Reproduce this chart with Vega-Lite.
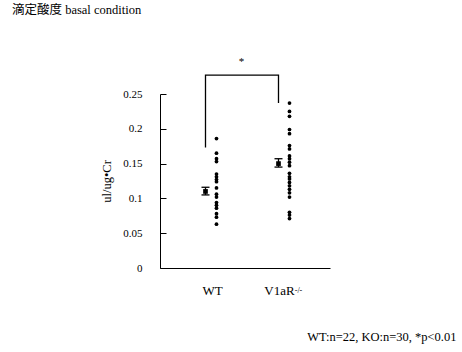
{
  "$schema": "https://vega.github.io/schema/vega-lite/v6.json",
  "autosize": "none",
  "width": 170,
  "height": 174,
  "padding": {"left": 160, "top": 94, "right": 132, "bottom": 84},
  "background": "white",
  "view": {"stroke": null},
  "config": {
    "font": "Liberation Serif",
    "axisY": {"grid": false, "labelOverlap": false, "tickSize": -6, "labelPadding": 24, "labelFontSize": 11, "labelColor": "black", "tickColor": "black", "domainColor": "black",
      "titleFontSize": 12.5, "titleFontWeight": "normal", "titleColor": "black", "titlePadding": 9}
  },
  "title": {"text": "滴定酸度 basal condition", "anchor": "start", "frame": "group", "dx": -148, "offset": 39, "font": "Liberation Serif, Noto Sans CJK JP", "fontSize": 12.5, "fontWeight": "normal", "color": "black"},
  "datasets": {
    "dots": [
      {"group": "WT", "kind": "dots", "value": 0.186},
      {"group": "WT", "kind": "dots", "value": 0.165},
      {"group": "WT", "kind": "dots", "value": 0.157},
      {"group": "WT", "kind": "dots", "value": 0.153},
      {"group": "WT", "kind": "dots", "value": 0.135},
      {"group": "WT", "kind": "dots", "value": 0.131},
      {"group": "WT", "kind": "dots", "value": 0.127},
      {"group": "WT", "kind": "dots", "value": 0.124},
      {"group": "WT", "kind": "dots", "value": 0.115},
      {"group": "WT", "kind": "dots", "value": 0.106},
      {"group": "WT", "kind": "dots", "value": 0.102},
      {"group": "WT", "kind": "dots", "value": 0.094},
      {"group": "WT", "kind": "dots", "value": 0.090},
      {"group": "WT", "kind": "dots", "value": 0.086},
      {"group": "WT", "kind": "dots", "value": 0.078},
      {"group": "WT", "kind": "dots", "value": 0.073},
      {"group": "WT", "kind": "dots", "value": 0.063},
      {"group": "V1aR", "kind": "dots", "value": 0.237},
      {"group": "V1aR", "kind": "dots", "value": 0.225},
      {"group": "V1aR", "kind": "dots", "value": 0.218},
      {"group": "V1aR", "kind": "dots", "value": 0.199},
      {"group": "V1aR", "kind": "dots", "value": 0.193},
      {"group": "V1aR", "kind": "dots", "value": 0.176},
      {"group": "V1aR", "kind": "dots", "value": 0.171},
      {"group": "V1aR", "kind": "dots", "value": 0.161},
      {"group": "V1aR", "kind": "dots", "value": 0.157},
      {"group": "V1aR", "kind": "dots", "value": 0.152},
      {"group": "V1aR", "kind": "dots", "value": 0.147},
      {"group": "V1aR", "kind": "dots", "value": 0.136},
      {"group": "V1aR", "kind": "dots", "value": 0.131},
      {"group": "V1aR", "kind": "dots", "value": 0.128},
      {"group": "V1aR", "kind": "dots", "value": 0.123},
      {"group": "V1aR", "kind": "dots", "value": 0.118},
      {"group": "V1aR", "kind": "dots", "value": 0.113},
      {"group": "V1aR", "kind": "dots", "value": 0.108},
      {"group": "V1aR", "kind": "dots", "value": 0.102},
      {"group": "V1aR", "kind": "dots", "value": 0.080},
      {"group": "V1aR", "kind": "dots", "value": 0.076},
      {"group": "V1aR", "kind": "dots", "value": 0.071}
    ],
    "means": [
      {"group": "WT", "kind": "mean", "mean": 0.110, "lo": 0.105, "hi": 0.116},
      {"group": "V1aR", "kind": "mean", "mean": 0.150, "lo": 0.145, "hi": 0.157}
    ],
    "bracket": [
      {"group": "WT", "kind": "mean", "y": 0.173, "ord": 1},
      {"group": "WT", "kind": "mean", "y": 0.277, "ord": 2},
      {"group": "V1aR", "kind": "mean", "y": 0.277, "ord": 3},
      {"group": "V1aR", "kind": "mean", "y": 0.237, "ord": 4}
    ],
    "star": [{"group": "WT", "kind": "mean", "y": 0.296, "text": "*"}],
    "sup": [{"group": "V1aR", "kind": "mean", "y": 0, "text": "-/-"}]
  },
  "encoding": {
    "x": {
      "field": "group", "type": "nominal",
      "scale": {"type": "band", "domain": ["WT", "V1aR"], "paddingInner": 0, "paddingOuter": 0.1644, "align": 0.604},
      "axis": {
        "title": "WT:n=22, KO:n=30, *p<0.01", "titleX": 296, "titleY": 72, "titleAlign": "right", "titleBaseline": "alphabetic",
        "titleFontSize": 12.5, "titleFontWeight": "normal", "titleColor": "black",
        "labelAngle": 0, "labelFontSize": 13, "labelPadding": 16, "labelColor": "black", "ticks": false, "domainColor": "black",
        "labelOffset": {"condition": {"test": "datum.value === 'V1aR'", "value": -4.5}, "value": 1.5}
      }
    },
    "xOffset": {"field": "kind", "type": "nominal", "scale": {"type": "point", "domain": ["mean", "dots"], "range": [31, 42], "padding": 0}}
  },
  "layer": [
    {
      "data": {"name": "dots"},
      "mark": {"type": "circle", "size": 14, "color": "black", "opacity": 1},
      "encoding": {
        "y": {"field": "value", "type": "quantitative", "scale": {"domain": [0, 0.25], "nice": false},
          "axis": {"title": "ul/ug•Cr", "values": [0, 0.05, 0.1, 0.15, 0.2, 0.25], "format": "~g"}}
      }
    },
    {
      "data": {"name": "means"},
      "mark": {"type": "rule", "color": "black", "strokeWidth": 1.3},
      "encoding": {"y": {"field": "lo", "type": "quantitative", "scale": {"domain": [0, 0.25], "nice": false}, "axis": {"title": "ul/ug•Cr", "values": [0, 0.05, 0.1, 0.15, 0.2, 0.25], "format": "~g"}}, "y2": {"field": "hi"}}
    },
    {
      "data": {"name": "means"},
      "mark": {"type": "tick", "orient": "horizontal", "size": 8, "thickness": 1.3, "color": "black", "opacity": 1},
      "encoding": {"y": {"field": "lo", "type": "quantitative", "scale": {"domain": [0, 0.25], "nice": false}, "axis": {"title": "ul/ug•Cr", "values": [0, 0.05, 0.1, 0.15, 0.2, 0.25], "format": "~g"}}}
    },
    {
      "data": {"name": "means"},
      "mark": {"type": "tick", "orient": "horizontal", "size": 8, "thickness": 1.3, "color": "black", "opacity": 1},
      "encoding": {"y": {"field": "hi", "type": "quantitative", "scale": {"domain": [0, 0.25], "nice": false}, "axis": {"title": "ul/ug•Cr", "values": [0, 0.05, 0.1, 0.15, 0.2, 0.25], "format": "~g"}}}
    },
    {
      "data": {"name": "means"},
      "mark": {"type": "square", "size": 22, "color": "black", "filled": true, "opacity": 1},
      "encoding": {"y": {"field": "mean", "type": "quantitative", "scale": {"domain": [0, 0.25], "nice": false}, "axis": {"title": "ul/ug•Cr", "values": [0, 0.05, 0.1, 0.15, 0.2, 0.25], "format": "~g"}}}
    },
    {
      "data": {"name": "bracket"},
      "mark": {"type": "line", "color": "black", "strokeWidth": 1.3},
      "encoding": {"y": {"field": "y", "type": "quantitative", "scale": {"domain": [0, 0.25], "nice": false}, "axis": {"title": "ul/ug•Cr", "values": [0, 0.05, 0.1, 0.15, 0.2, 0.25], "format": "~g"}}, "order": {"field": "ord", "type": "quantitative"}}
    },
    {
      "data": {"name": "star"},
      "mark": {"type": "text", "dx": 36, "fontSize": 11, "baseline": "middle", "color": "black"},
      "encoding": {"y": {"field": "y", "type": "quantitative", "scale": {"domain": [0, 0.25], "nice": false}, "axis": {"title": "ul/ug•Cr", "values": [0, 0.05, 0.1, 0.15, 0.2, 0.25], "format": "~g"}}, "text": {"field": "text"}}
    },
    {
      "data": {"name": "sup"},
      "mark": {"type": "text", "dx": 20, "dy": 22.5, "fontSize": 8, "baseline": "middle", "color": "black"},
      "encoding": {"y": {"field": "y", "type": "quantitative", "scale": {"domain": [0, 0.25], "nice": false}, "axis": {"title": "ul/ug•Cr", "values": [0, 0.05, 0.1, 0.15, 0.2, 0.25], "format": "~g"}}, "text": {"field": "text"}}
    }
  ]
}
